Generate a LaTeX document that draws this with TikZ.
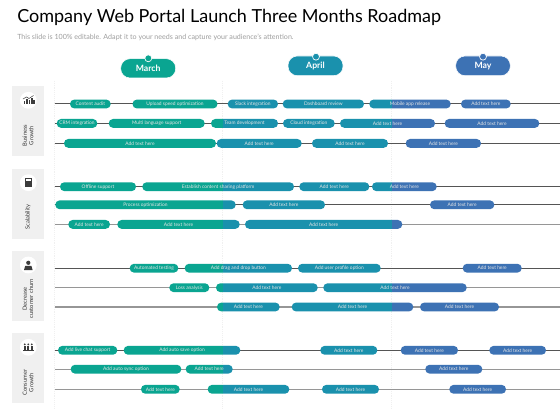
\documentclass[tikz,border=0pt]{standalone}
\usepackage{fontspec}
\setmainfont{Lato}
\usetikzlibrary{positioning,calc}
\definecolor{rmGreen}{RGB}{10,165,145}
\definecolor{rmTeal}{RGB}{26,145,173}
\definecolor{rmBlue}{RGB}{61,114,180}
\definecolor{rmPanel}{RGB}{240,240,240}
\definecolor{rmLine}{RGB}{85,85,85}
\definecolor{rmLineLt}{RGB}{150,150,150}
\definecolor{rmIcon}{RGB}{60,60,60}
\tikzset{
  monthpill/.style={rounded corners=7pt, draw=white, line width=0.4pt},
  monthlabel/.style={text=white, font=\fontsize{6.5}{8}\selectfont\bfseries, inner sep=0pt},
  monthdot/.style={circle, draw=white, line width=0.5pt, inner sep=0pt, minimum size=5.2pt},
  barlabel/.style={text=white!90!black, font=\fontsize{3.65}{4.5}\selectfont, inner sep=0pt},
  rowline/.style={rmLine, line width=0.7pt},
  rowlinelt/.style={rmLineLt, line width=0.9pt},
  gridline/.style={rmPanel, line width=0.4pt, densely dotted},
  iconback/.style={circle, fill=white, inner sep=0pt, minimum size=12.6pt},
  sidelabel/.style={rotate=90, align=center, text=black!80, font=\fontsize{4.3}{4.8}\selectfont, inner sep=0pt}
}
% optional: where the green part stops; name, left, right, y, text
\newcommand{\roadbar}[6][222.5]{%
  \begin{scope}
    \clip[rounded corners=3.2pt] (#3,#5-4.4) rectangle (#4,#5+4.4);
    \fill[rmGreen] (0,#5-5) rectangle (#1,#5+5);
    \fill[rmTeal] (#1,#5-5) rectangle (391.5,#5+5);
    \fill[rmBlue] (391.5,#5-5) rectangle (560,#5+5);
  \end{scope}
  \node[barlabel] (#2) at ({(#3+#4)/2},#5) {#6};
}
\begin{document}
\begin{tikzpicture}[x=0.75pt,y=-0.75pt]
  \useasboundingbox (0,0) rectangle (560,420);
  \fill[white] (0,0) rectangle (560,420);

  % Title
  \node[anchor=base west, inner sep=0pt, font=\fontsize{13.5}{18}\selectfont] (title) at (17,22.5) {Company Web Portal Launch Three Months Roadmap};
  \node[anchor=base west, inner sep=0pt, text=black!38, font=\fontsize{5.33}{6}\selectfont] (subtitle) at (17,40) {This slide is 100\% editable. Adapt it to your needs and capture your audience's attention.};

  % Month columns
  \foreach \gx in {54.5,222.5,391.5}
    \draw[gridline] (\gx,81) -- (\gx,408);

  % Months
  \fill[rmGreen, monthpill] (120.7,58.7) rectangle (175.7,78);
  \node[monthlabel] (march) at (148.2,68.2) {March};
  \node[monthdot, fill=rmGreen] (marchdot) at (148.3,58.3) {};
  \fill[rmTeal, monthpill] (288,56) rectangle (343,75.7);
  \node[monthlabel] (april) at (315.5,66) {April};
  \node[monthdot, fill=rmTeal] (aprildot) at (316,56.7) {};
  \fill[rmBlue, monthpill] (455.7,56) rectangle (510.3,75.7);
  \node[monthlabel] (may) at (483,66) {May};
  \node[monthdot, fill=rmBlue] (maydot) at (483,56.7) {};

  % Side panels
  \fill[rmPanel] (12,86.3) rectangle (44,155.7);
  \fill[rmPanel] (12,168.7) rectangle (44,238.7);
  \fill[rmPanel] (12,251) rectangle (44,321);
  \fill[rmPanel] (12,333) rectangle (44,403);
  \node[iconback] (icona) at (28.3,100.3) {};
  \node[iconback] (iconb) at (28.3,182.7) {};
  \node[iconback] (iconc) at (28.3,265) {};
  \node[iconback] (icond) at (28.3,347.3) {};
  \node[sidelabel] (sidea) at (28,135.5) {Business\\Growth};
  \node[sidelabel] (sideb) at (28,217) {Scalability};
  \node[sidelabel] (sidec) at (28,299) {Decrease\\customer churn};
  \node[sidelabel] (sided) at (28,382.5) {Consumer\\Growth};

  % Icons
  \foreach \ix/\ih in {23.5/3,26/5,28.5/4,31/6,33/4.5}
    \fill[rmIcon] (\ix,104.5) rectangle (\ix+1.6,104.5-\ih);
  \draw[rmIcon, line width=0.4pt] (23,99) -- (26.5,97) -- (29,98.5) -- (33.5,95.5);
  \fill[rmIcon] (24.5,178.5) rectangle (32,187);
  \fill[white] (26,179.3) rectangle (30.5,180.8);
  \fill[rmIcon] (28.3,262.8) circle (2.1);
  \fill[rmIcon] (24,270) -- (25.2,265.8) -- (31.4,265.8) -- (32.6,270) -- cycle;
  \foreach \ix in {24.8,28.3,31.8} {
    \fill[rmIcon] (\ix,344.3) circle (1);
    \fill[rmIcon] (\ix-1,345.5) rectangle (\ix+1,349.5);
  }
  \fill[rmIcon] (23,350) rectangle (33.5,351);

  % Row lines
  \foreach \ry in {103.5,123.3,143.3,186.7,204.7,268,350.3}
    \draw[rowline] (54.5,\ry) -- (560,\ry);
  \foreach \ry in {224.3,287.7,307,369.3,389.3}
    \draw[rowlinelt] (54.5,\ry) -- (560,\ry);

  % Business growth
  \roadbar{ba}{70}{110.7}{104}{Content audit}
  \roadbar{bb}{132.5}{217.5}{104}{Upload speed optimization}
  \roadbar{bc}{227.7}{278}{104}{Slack integration}
  \roadbar{bd}{282.7}{364}{104}{Dashboard review}
  \roadbar{be}{369.3}{450.7}{104}{Mobile app release}
  \roadbar{bf}{461}{510.7}{104}{Add text here}
  \roadbar{bg}{56.7}{97.3}{123.4}{CRM integration}
  \roadbar{bh}{108.7}{204.7}{123.4}{Multi language support}
  \roadbar{bi}{211}{278}{123.4}{Team development}
  \roadbar{bj}{283}{334.7}{123.4}{Cloud integration}
  \roadbar{bk}{340}{435}{123.4}{Add text here}
  \roadbar{bl}{444.7}{539.3}{123.4}{Add text here}
  \roadbar{bm}{64}{216}{143.4}{Add text here}
  \roadbar[216]{bn}{216.7}{301.7}{143.4}{Add text here}
  \roadbar{bo}{312}{388}{143.4}{Add text here}
  \roadbar{bp}{405.7}{481}{143.4}{Add text here}

  % Scalability
  \roadbar{sa}{60}{136}{186.7}{Offline support}
  \roadbar{sb}{142.3}{294}{186.7}{Establish content sharing platform}
  \roadbar{sc}{299.3}{369.3}{186.7}{Add text here}
  \roadbar{sd}{372}{436.7}{186.7}{Add text here}
  \roadbar{se}{55.3}{235.7}{204.8}{Process optimization}
  \roadbar{sf}{242.7}{325}{204.8}{Add text here}
  \roadbar{sg}{430}{494.3}{204.8}{Add text here}
  \roadbar{sh}{68.3}{110}{224.4}{Add text here}
  \roadbar{si}{117.3}{239.7}{224.4}{Add text here}
  \roadbar{sj}{245}{402.3}{224.4}{Add text here}

  % Decrease customer churn
  \roadbar{da}{129.7}{178.3}{268.2}{Automated testing}
  \roadbar{db}{184.7}{292}{268.2}{Add drag and drop button}
  \roadbar{dc}{298}{380.7}{268.2}{Add user profile option}
  \roadbar{dd}{462.7}{521.7}{268.2}{Add text here}
  \roadbar{de}{169.3}{209.3}{287.7}{Loss analysis}
  \roadbar{df}{216}{317.7}{287.7}{Add text here}
  \roadbar{dg}{323.3}{466.7}{287.7}{Add text here}
  \roadbar{dh}{217}{279.7}{307}{Add text here}
  \roadbar{di}{291.7}{413.3}{307}{Add text here}
  \roadbar{dj}{420}{499}{307}{Add text here}

  % Consumer growth
  \roadbar{ca}{58}{117.3}{350.3}{Add live chat support}
  \roadbar{cb}{123.7}{240.3}{350.3}{Add auto save option}
  \roadbar{cc}{320.3}{377.3}{350.3}{Add text here}
  \roadbar{cd}{400.7}{458}{350.3}{Add text here}
  \roadbar{ce}{489.3}{546}{350.3}{Add text here}
  \roadbar{cf}{70.7}{181.3}{369.2}{Add auto sync option}
  \roadbar{cg}{185.7}{232.7}{369.2}{Add text here}
  \roadbar{ch}{425.3}{482.3}{369.2}{Add text here}
  \roadbar{ci}{141}{179.7}{389.3}{Add text here}
  \roadbar{cj}{207.7}{289.3}{389.3}{Add text here}
  \roadbar{ck}{322}{379}{389.3}{Add text here}
  \roadbar{cl}{449.3}{506}{389.3}{Add text here}
\end{tikzpicture}
\end{document}
